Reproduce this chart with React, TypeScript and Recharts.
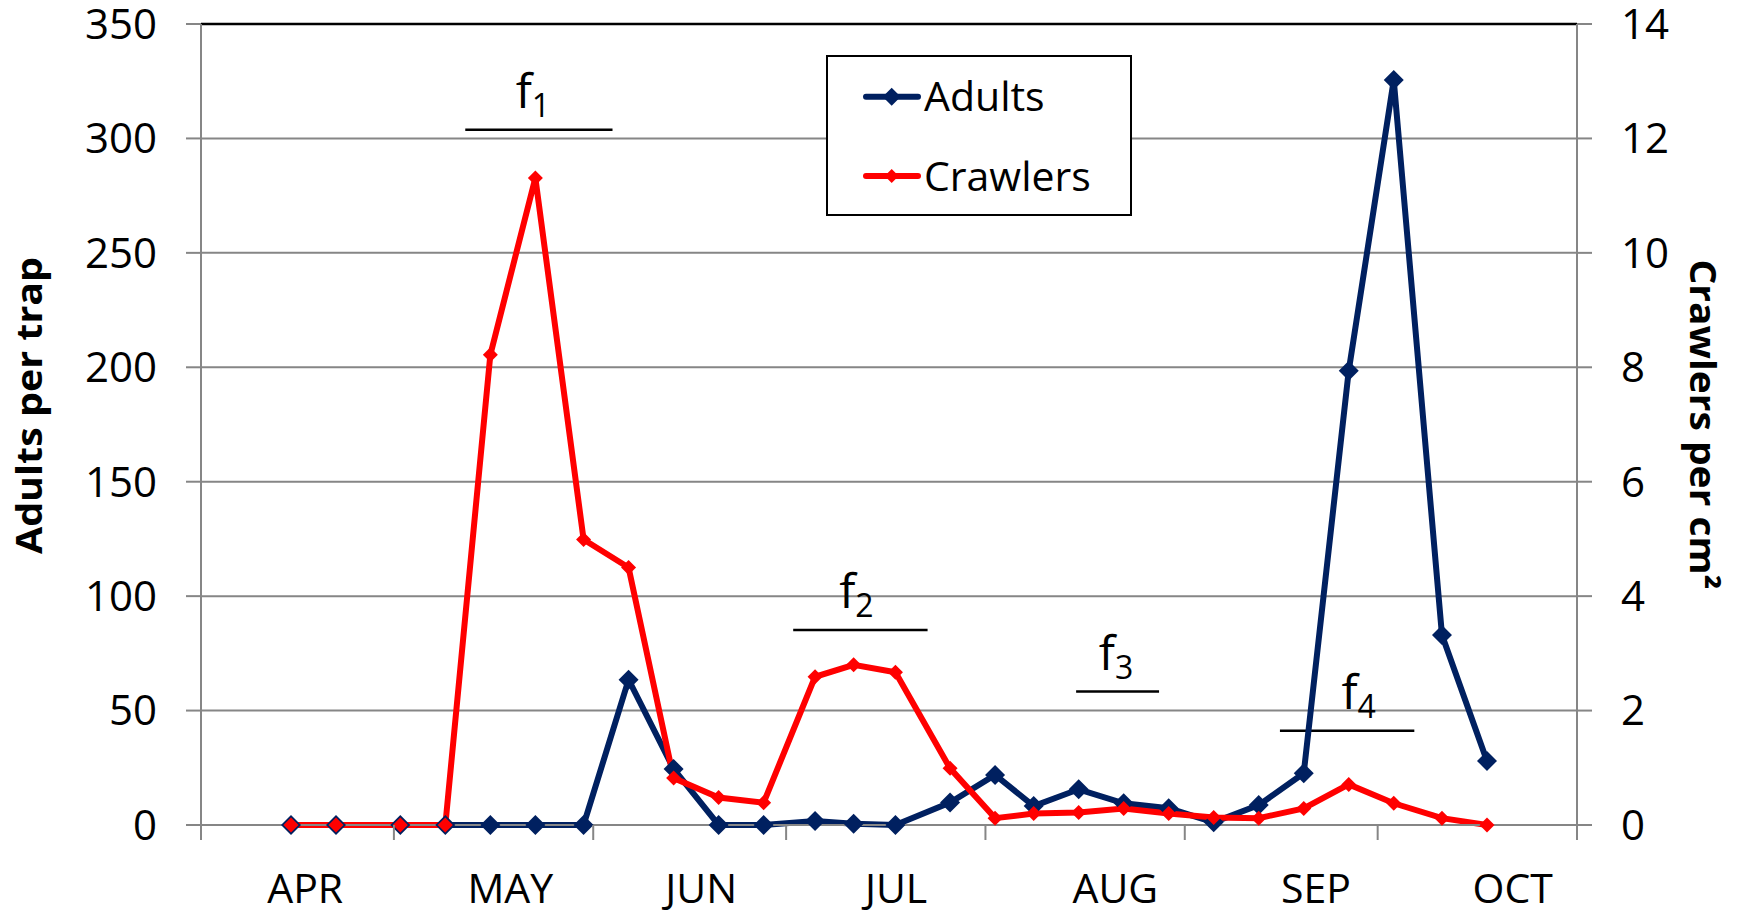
import React from 'react';
import {
  LineChart, Line, XAxis, YAxis, CartesianGrid, ReferenceLine, Legend,
} from 'recharts';

const FONT = '"Open Sans", "Noto Sans", sans-serif';
const NAVY = '#002060';
const RED = '#FF0000';
const GRID = '#868686';

// sampling dates, as days after 1 April
const sampleDay = [14, 21, 31, 38, 45, 52, 59.5, 66.5, 73.5, 80.5, 87.5, 95.5, 101.5, 108, 116.5, 123.5, 129.5, 136.5, 143.5, 150.5, 157.5, 164.5, 171.5, 178.5, 185.5, 193, 200];
const adults = [0, 0, 0, 0, 0, 0, 0, 63.5, 24.5, 0, 0, 1.7, 0.5, 0, 9.8, 21.9, 8.3, 15.6, 9.5, 7.3, 1.2, 8.7, 22.6, 198.5, 325.5, 83, 28];
const crawlers = [0, 0, 0, 0, 8.22, 11.31, 4.99, 4.5, 0.82, 0.48, 0.39, 2.59, 2.8, 2.67, 0.99, 0.12, 0.2, 0.22, 0.29, 0.2, 0.13, 0.12, 0.29, 0.71, 0.38, 0.12, 0];

// month boundaries (tick marks) and where the month names sit
const monthStart = [0, 30, 61, 91, 122, 153, 183, 214];
const monthNames = ['APR', 'MAY', 'JUN', 'JUL', 'AUG', 'SEP', 'OCT'];
const monthLabelDay = [16.2, 48.1, 77.8, 108.1, 142.2, 173.4, 204];

const adultTicks = [0, 50, 100, 150, 200, 250, 300, 350];
const crawlerTicks = [0, 2, 4, 6, 8, 10, 12, 14];

// flight periods f1..f4 (bar from day..day at adults-axis height)
const flights = [
  { sub: '1', from: 41.1, to: 64, at: 303.8, dx: -6 },
  { sub: '2', from: 92.1, to: 113, at: 85.2, dx: -4 },
  { sub: '3', from: 136.1, to: 149, at: 58.3, dx: -1.5 },
  { sub: '4', from: 167.8, to: 188.7, at: 41.2, dx: 11.5 },
];

const data = sampleDay.map((day, i) => ({ day, adults: adults[i], crawlers: crawlers[i] }));
const xTicks = [...monthStart, ...monthLabelDay].sort((a, b) => a - b);

const diamond = (r: number, fill: string) => (props: any) => {
  const { cx, cy, index } = props;
  if (cx == null || cy == null) return <g key={`n-${index}`} />;
  return (
    <path
      key={`d-${index}`}
      d={`M${cx},${cy - r}L${cx + r},${cy}L${cx},${cy + r}L${cx - r},${cy}Z`}
      fill={fill}
    />
  );
};

const MonthTick = ({ x, y, payload }: any) => {
  const v = payload.value;
  if (monthStart.includes(v)) {
    return <line x1={x} x2={x} y1={y} y2={y + 15} stroke={GRID} strokeWidth={2} />;
  }
  const i = monthLabelDay.indexOf(v);
  return (
    <text x={x} y={y + 78} textAnchor="middle" fontFamily={FONT} fontSize={41} fill="#000">
      {monthNames[i]}
    </text>
  );
};

const FlightLabel = ({ viewBox, sub, dx }: any) => {
  if (!viewBox) return null;
  const x = viewBox.x + viewBox.width / 2 + dx;
  const y = viewBox.y - 22;
  return (
    <text x={x} y={y} textAnchor="middle" fontFamily={FONT} fontSize={48} fill="#000">
      <tspan>f</tspan>
      <tspan fontSize={32} dy={9}>{sub}</tspan>
    </text>
  );
};

const LeftTitle = ({ viewBox }: any) => {
  const cx = viewBox.x + 42;
  const cy = viewBox.y + viewBox.height / 2 - 19;
  return (
    <text x={cx} y={cy} transform={`rotate(-90, ${cx}, ${cy})`} textAnchor="middle"
      fontFamily={FONT} fontWeight={700} fontSize={36} fill="#000"
      textLength={297} lengthAdjust="spacingAndGlyphs">
      Adults per trap
    </text>
  );
};

const RightTitle = ({ viewBox }: any) => {
  const cx = viewBox.x + 113;
  const cy = viewBox.y + viewBox.height / 2;
  return (
    <text x={cx} y={cy} transform={`rotate(90, ${cx}, ${cy})`} textAnchor="middle"
      fontFamily={FONT} fontWeight={700} fontSize={36} fill="#000"
      textLength={330} lengthAdjust="spacingAndGlyphs">
      Crawlers per cm²
    </text>
  );
};

const LegendBox = ({ payload }: any) => {
  const items = payload || [];
  return (
    <svg width={306} height={161} style={{ display: 'block' }}>
      <rect x={1} y={1} width={304} height={159} fill="#fff" stroke="#000" strokeWidth={2} />
      {items.map((it: any, i: number) => {
        const y = i === 0 ? 41.7 : 121;
        const r = i === 0 ? 9 : 7;
        return (
          <g key={`lg-${it.value}`}>
            <line x1={40} x2={92} y1={y} y2={y} stroke={it.color} strokeWidth={6} strokeLinecap="round" />
            <path d={`M65.7,${y - r}L${65.7 + r},${y}L65.7,${y + r}L${65.7 - r},${y}Z`} fill={it.color} />
            <text x={98} y={y + 14.5} fontFamily={FONT} fontSize={41} fill="#000">{it.value}</text>
          </g>
        );
      })}
    </svg>
  );
};

const tickStyle = { fill: '#000', fontSize: 42, fontFamily: FONT };

export default function App() {
  return (
    <div style={{ position: 'absolute', left: 0, top: 0, background: '#fff' }}>
      <LineChart width={1741} height={915} data={data} margin={{ top: 24, right: 0, left: 0, bottom: 0 }}>
        <CartesianGrid xAxisId="x" yAxisId="left" vertical={false} stroke={GRID} strokeWidth={2} />
        <XAxis
          xAxisId="x" dataKey="day" type="number" domain={[0, 214]} ticks={xTicks}
          height={90} tickSize={0} tickMargin={0} tickLine={false}
          axisLine={{ stroke: GRID, strokeWidth: 2 }} tick={<MonthTick />} interval={0}
        />
        <YAxis
          yAxisId="left" domain={[0, 350]} ticks={adultTicks} width={201} tickSize={15} tickMargin={29}
          axisLine={{ stroke: GRID, strokeWidth: 2 }} tickLine={{ stroke: GRID, strokeWidth: 2 }}
          tick={tickStyle} interval={0} label={<LeftTitle />}
        />
        <YAxis
          yAxisId="right" orientation="right" domain={[0, 14]} ticks={crawlerTicks} width={164}
          tickSize={15} tickMargin={29}
          axisLine={{ stroke: GRID, strokeWidth: 2 }} tickLine={{ stroke: GRID, strokeWidth: 2 }}
          tick={tickStyle} interval={0} label={<RightTitle />}
        />
        <ReferenceLine xAxisId="x" yAxisId="left" y={350} stroke="#000" strokeWidth={2.5} />
        {flights.map((f) => (
          <ReferenceLine
            key={`fl-${f.sub}`}
            xAxisId="x" yAxisId="left"
            segment={[{ x: f.from, y: f.at }, { x: f.to, y: f.at }]}
            stroke="#000" strokeWidth={2.5}
            label={<FlightLabel sub={f.sub} dx={f.dx} />}
          />
        ))}
        <Legend
          layout="horizontal" verticalAlign="middle" align="center"
          content={<LegendBox />}
          wrapperStyle={{ position: 'absolute', left: 826, top: 55, width: 306, height: 161 }}
        />
        <Line
          xAxisId="x" yAxisId="left" name="Adults" dataKey="adults" stroke={NAVY} strokeWidth={6}
          dot={diamond(10, NAVY)} activeDot={false} isAnimationActive={false}
        />
        <Line
          xAxisId="x" yAxisId="right" name="Crawlers" dataKey="crawlers" stroke={RED} strokeWidth={6}
          dot={diamond(7.5, RED)} activeDot={false} isAnimationActive={false}
        />
      </LineChart>
    </div>
  );
}
